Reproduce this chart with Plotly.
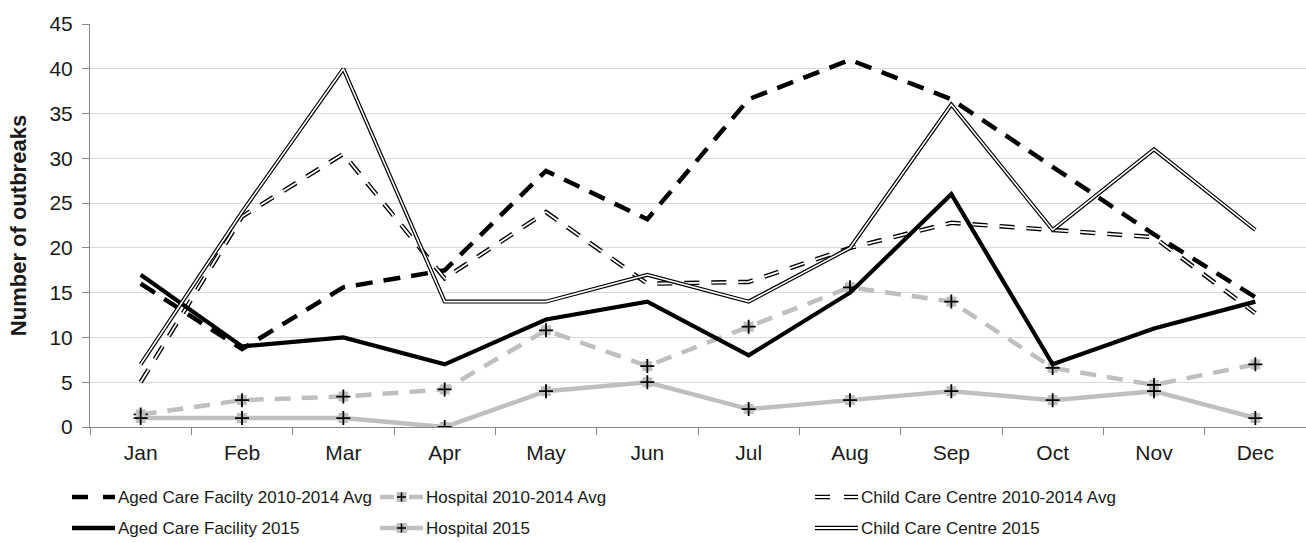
import plotly.graph_objects as go

# Monthly outbreak counts by setting
months = ["Jan", "Feb", "Mar", "Apr", "May", "Jun", "Jul", "Aug", "Sep", "Oct", "Nov", "Dec"]
aged_avg = [16, 8.7, 15.6, 17.5, 28.6, 23.2, 36.6, 41, 36.6, 29, 21.5, 14.5]
hosp_avg = [1.4, 3, 3.4, 4.2, 10.8, 6.8, 11.2, 15.6, 14, 6.6, 4.7, 7]
child_avg = [5, 23.5, 30.5, 16.6, 24, 16, 16.2, 20, 22.8, 22, 21.2, 12.7]
aged_2015 = [17, 9, 10, 7, 12, 14, 8, 15, 26, 7, 11, 14]
hosp_2015 = [1, 1, 1, 0, 4, 5, 2, 3, 4, 3, 4, 1]
child_2015 = [7, 24, 40, 14, 14, 17, 14, 20, 36, 22, 31, 22]

legend_labels = [
    "Aged Care Facilty 2010-2014 Avg", "Hospital 2010-2014 Avg", "Child Care Centre 2010-2014 Avg",
    "Aged Care Facility 2015", "Hospital 2015", "Child Care Centre 2015",
]

FONT = "Liberation Sans, Arial, sans-serif"
TXT = "#1a1a1a"
GREY = "#bfbfbf"
W, H = 1306, 543
L, R, T, B = 90, 0, 24, 116
PW, PH = W - L - R, H - T - B

fig = go.Figure()


def line(y, color, width, dash="solid"):
    fig.add_trace(go.Scatter(x=months, y=y, mode="lines", showlegend=False, hoverinfo="skip",
                             line=dict(color=color, width=width, dash=dash)))


def plus_markers(y):
    fig.add_trace(go.Scatter(x=months, y=y, mode="markers", showlegend=False, hoverinfo="skip",
                             marker=dict(symbol="square", size=10, color=GREY)))
    fig.add_trace(go.Scatter(x=months, y=y, mode="markers", showlegend=False, hoverinfo="skip",
                             marker=dict(symbol="cross-thin", size=10,
                                         line=dict(color="black", width=1.8))))


# averages
line(aged_avg, "black", 4.5, "17px,11px")
line(hosp_avg, GREY, 4.5, "16px,11px")
plus_markers(hosp_avg)
line(child_avg, "black", 4.5, "15px,12px")
line(child_avg, "white", 1.8, "15px,12px")
# 2015
line(aged_2015, "black", 4.2)
line(hosp_2015, GREY, 4.5)
plus_markers(hosp_2015)
line(child_2015, "black", 4)
line(child_2015, "white", 1.6)


# legend drawn in pixel positions below the plot
def px(xp):
    return (xp - L) / PW


def py(yp):
    return (H - B - yp) / PH


shapes = []
annotations = []
cols = [72, 380, 815]
rows = [497, 528]
SAMPLE = 43
for i, label in enumerate(legend_labels):
    c, r = i % 3, i // 3
    x0, yy = cols[c], rows[r]
    x1 = x0 + SAMPLE
    seg = dict(type="line", xref="paper", yref="paper", x0=px(x0), x1=px(x1), y0=py(yy), y1=py(yy))
    if c == 0:
        shapes.append({**seg, "line": dict(color="black", width=4.5,
                                           dash="16px,15px" if r == 0 else "solid")})
    elif c == 1:
        shapes.append({**seg, "line": dict(color=GREY, width=4.5,
                                           dash="14px,15px" if r == 0 else "solid")})
        mx = (x0 + x1) / 2
        shapes.append(dict(type="rect", xref="paper", yref="paper", x0=px(mx - 5), x1=px(mx + 5),
                           y0=py(yy + 5), y1=py(yy - 5), fillcolor=GREY, line=dict(width=0)))
        shapes.append(dict(type="line", xref="paper", yref="paper", x0=px(mx - 4.5), x1=px(mx + 4.5),
                           y0=py(yy), y1=py(yy), line=dict(color="black", width=1.6)))
        shapes.append(dict(type="line", xref="paper", yref="paper", x0=px(mx), x1=px(mx),
                           y0=py(yy - 4.5), y1=py(yy + 4.5), line=dict(color="black", width=1.6)))
    else:
        d = "15px,14px" if r == 0 else "solid"
        shapes.append({**seg, "line": dict(color="black", width=4.5, dash=d)})
        shapes.append({**seg, "line": dict(color="white", width=1.8, dash=d)})
    annotations.append(dict(text=label, xref="paper", yref="paper", x=px(x1 + 1), y=py(yy),
                            xanchor="left", yanchor="middle", showarrow=False,
                            font=dict(family=FONT, size=17, color=TXT)))

fig.update_layout(
    width=W, height=H,
    margin=dict(l=L, r=R, t=T, b=B),
    paper_bgcolor="white", plot_bgcolor="white",
    font=dict(family=FONT, size=21, color=TXT),
    showlegend=False,
    shapes=shapes,
    annotations=annotations,
    xaxis=dict(type="category", range=[-0.5, 11.5], tickson="boundaries",
               ticks="outside", ticklen=7, tickcolor="#868686", ticklabelstandoff=7,
               showline=True, linecolor="#868686", linewidth=1, showgrid=False,
               tickfont=dict(family=FONT, size=21, color=TXT)),
    yaxis=dict(range=[0, 45], dtick=5, tick0=0, showgrid=True, gridcolor="#d9d9d9", gridwidth=1,
               showline=True, linecolor="#868686", linewidth=1, zeroline=False,
               ticks="outside", ticklen=7, tickcolor="#868686", ticklabelstandoff=5,
               tickfont=dict(family=FONT, size=21, color=TXT),
               title=dict(text="<b>Number of outbreaks</b>", standoff=16,
                          font=dict(family=FONT, size=22, color=TXT))),
)

fig.write_html("out.html")
